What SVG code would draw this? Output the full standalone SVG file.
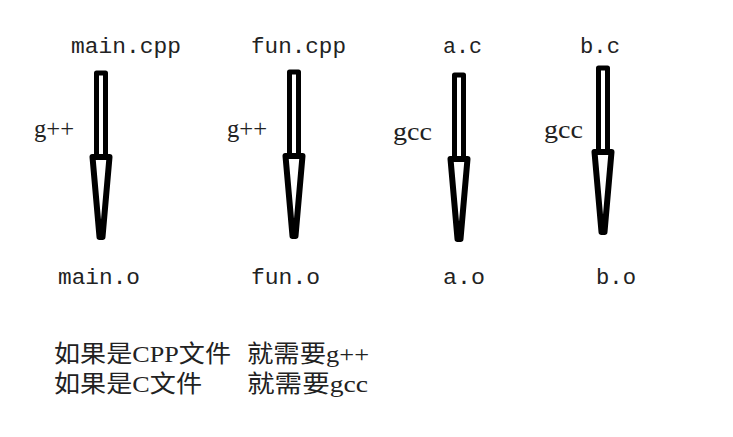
<svg xmlns="http://www.w3.org/2000/svg" xmlns:xlink="http://www.w3.org/1999/xlink" width="733" height="437" viewBox="0 0 733 437">
<style>
.lbl{font-family:"Liberation Mono","DejaVu Sans Mono",monospace;font-size:22px;fill:#222}
.cmd{font-family:"Liberation Serif","Noto Serif",serif;font-size:25px;fill:#222}
.note{font-family:"Liberation Serif","Noto Sans CJK SC",serif;font-size:24px;fill:#222}
.ar{fill:#fff;stroke:#000;stroke-width:5;stroke-linejoin:round}
.hd{fill:#fff;stroke:#000;stroke-width:6;stroke-linejoin:round}
</style>
<defs>
<g id="arrow">
<path class="ar" d="M-4.5,0 H4.5 V84 H-4.5 Z"/>
<path class="hd" d="M-8.5,84 H8.5 L1.5,164 H-1.5 Z"/>
<path d="M-2,87 H2 L0,118 Z" fill="#fff"/>
</g>
</defs>
<rect width="733" height="437" fill="#fff"/>
<g id="connectors">
<use xlink:href="#arrow" x="101" y="73"/>
<use xlink:href="#arrow" x="294" y="72"/>
<use xlink:href="#arrow" x="459" y="75"/>
<use xlink:href="#arrow" x="603" y="68"/>
</g>
<g id="main-cpp"><text class="lbl" x="71" y="53" textLength="110" lengthAdjust="spacingAndGlyphs">main.cpp</text></g>
<g id="fun-cpp"><text class="lbl" x="251" y="53" textLength="95" lengthAdjust="spacingAndGlyphs">fun.cpp</text></g>
<g id="a-c"><text class="lbl" x="443" y="53" textLength="39" lengthAdjust="spacingAndGlyphs">a.c</text></g>
<g id="b-c"><text class="lbl" x="580" y="53" textLength="40" lengthAdjust="spacingAndGlyphs">b.c</text></g>
<g id="main-o"><text class="lbl" x="58" y="284" textLength="82" lengthAdjust="spacingAndGlyphs">main.o</text></g>
<g id="fun-o"><text class="lbl" x="251" y="284" textLength="69" lengthAdjust="spacingAndGlyphs">fun.o</text></g>
<g id="a-o"><text class="lbl" x="443" y="284" textLength="42" lengthAdjust="spacingAndGlyphs">a.o</text></g>
<g id="b-o"><text class="lbl" x="596" y="284" textLength="40" lengthAdjust="spacingAndGlyphs">b.o</text></g>
<g id="labels">
<text class="cmd" x="34" y="137" textLength="40" lengthAdjust="spacingAndGlyphs">g++</text>
<text class="cmd" x="227" y="137" textLength="40" lengthAdjust="spacingAndGlyphs">g++</text>
<text class="cmd" x="393" y="140" textLength="39" lengthAdjust="spacingAndGlyphs">gcc</text>
<text class="cmd" x="544" y="138" textLength="39" lengthAdjust="spacingAndGlyphs">gcc</text>
</g>
<g id="notes">
<text class="note" x="54" y="362" textLength="177" lengthAdjust="spacingAndGlyphs">如果是CPP文件</text>
<text class="note" x="247" y="362" textLength="122" lengthAdjust="spacingAndGlyphs">就需要g++</text>
<text class="note" x="54" y="392" textLength="148" lengthAdjust="spacingAndGlyphs">如果是C文件</text>
<text class="note" x="247" y="392" textLength="121" lengthAdjust="spacingAndGlyphs">就需要gcc</text>
</g>
</svg>
